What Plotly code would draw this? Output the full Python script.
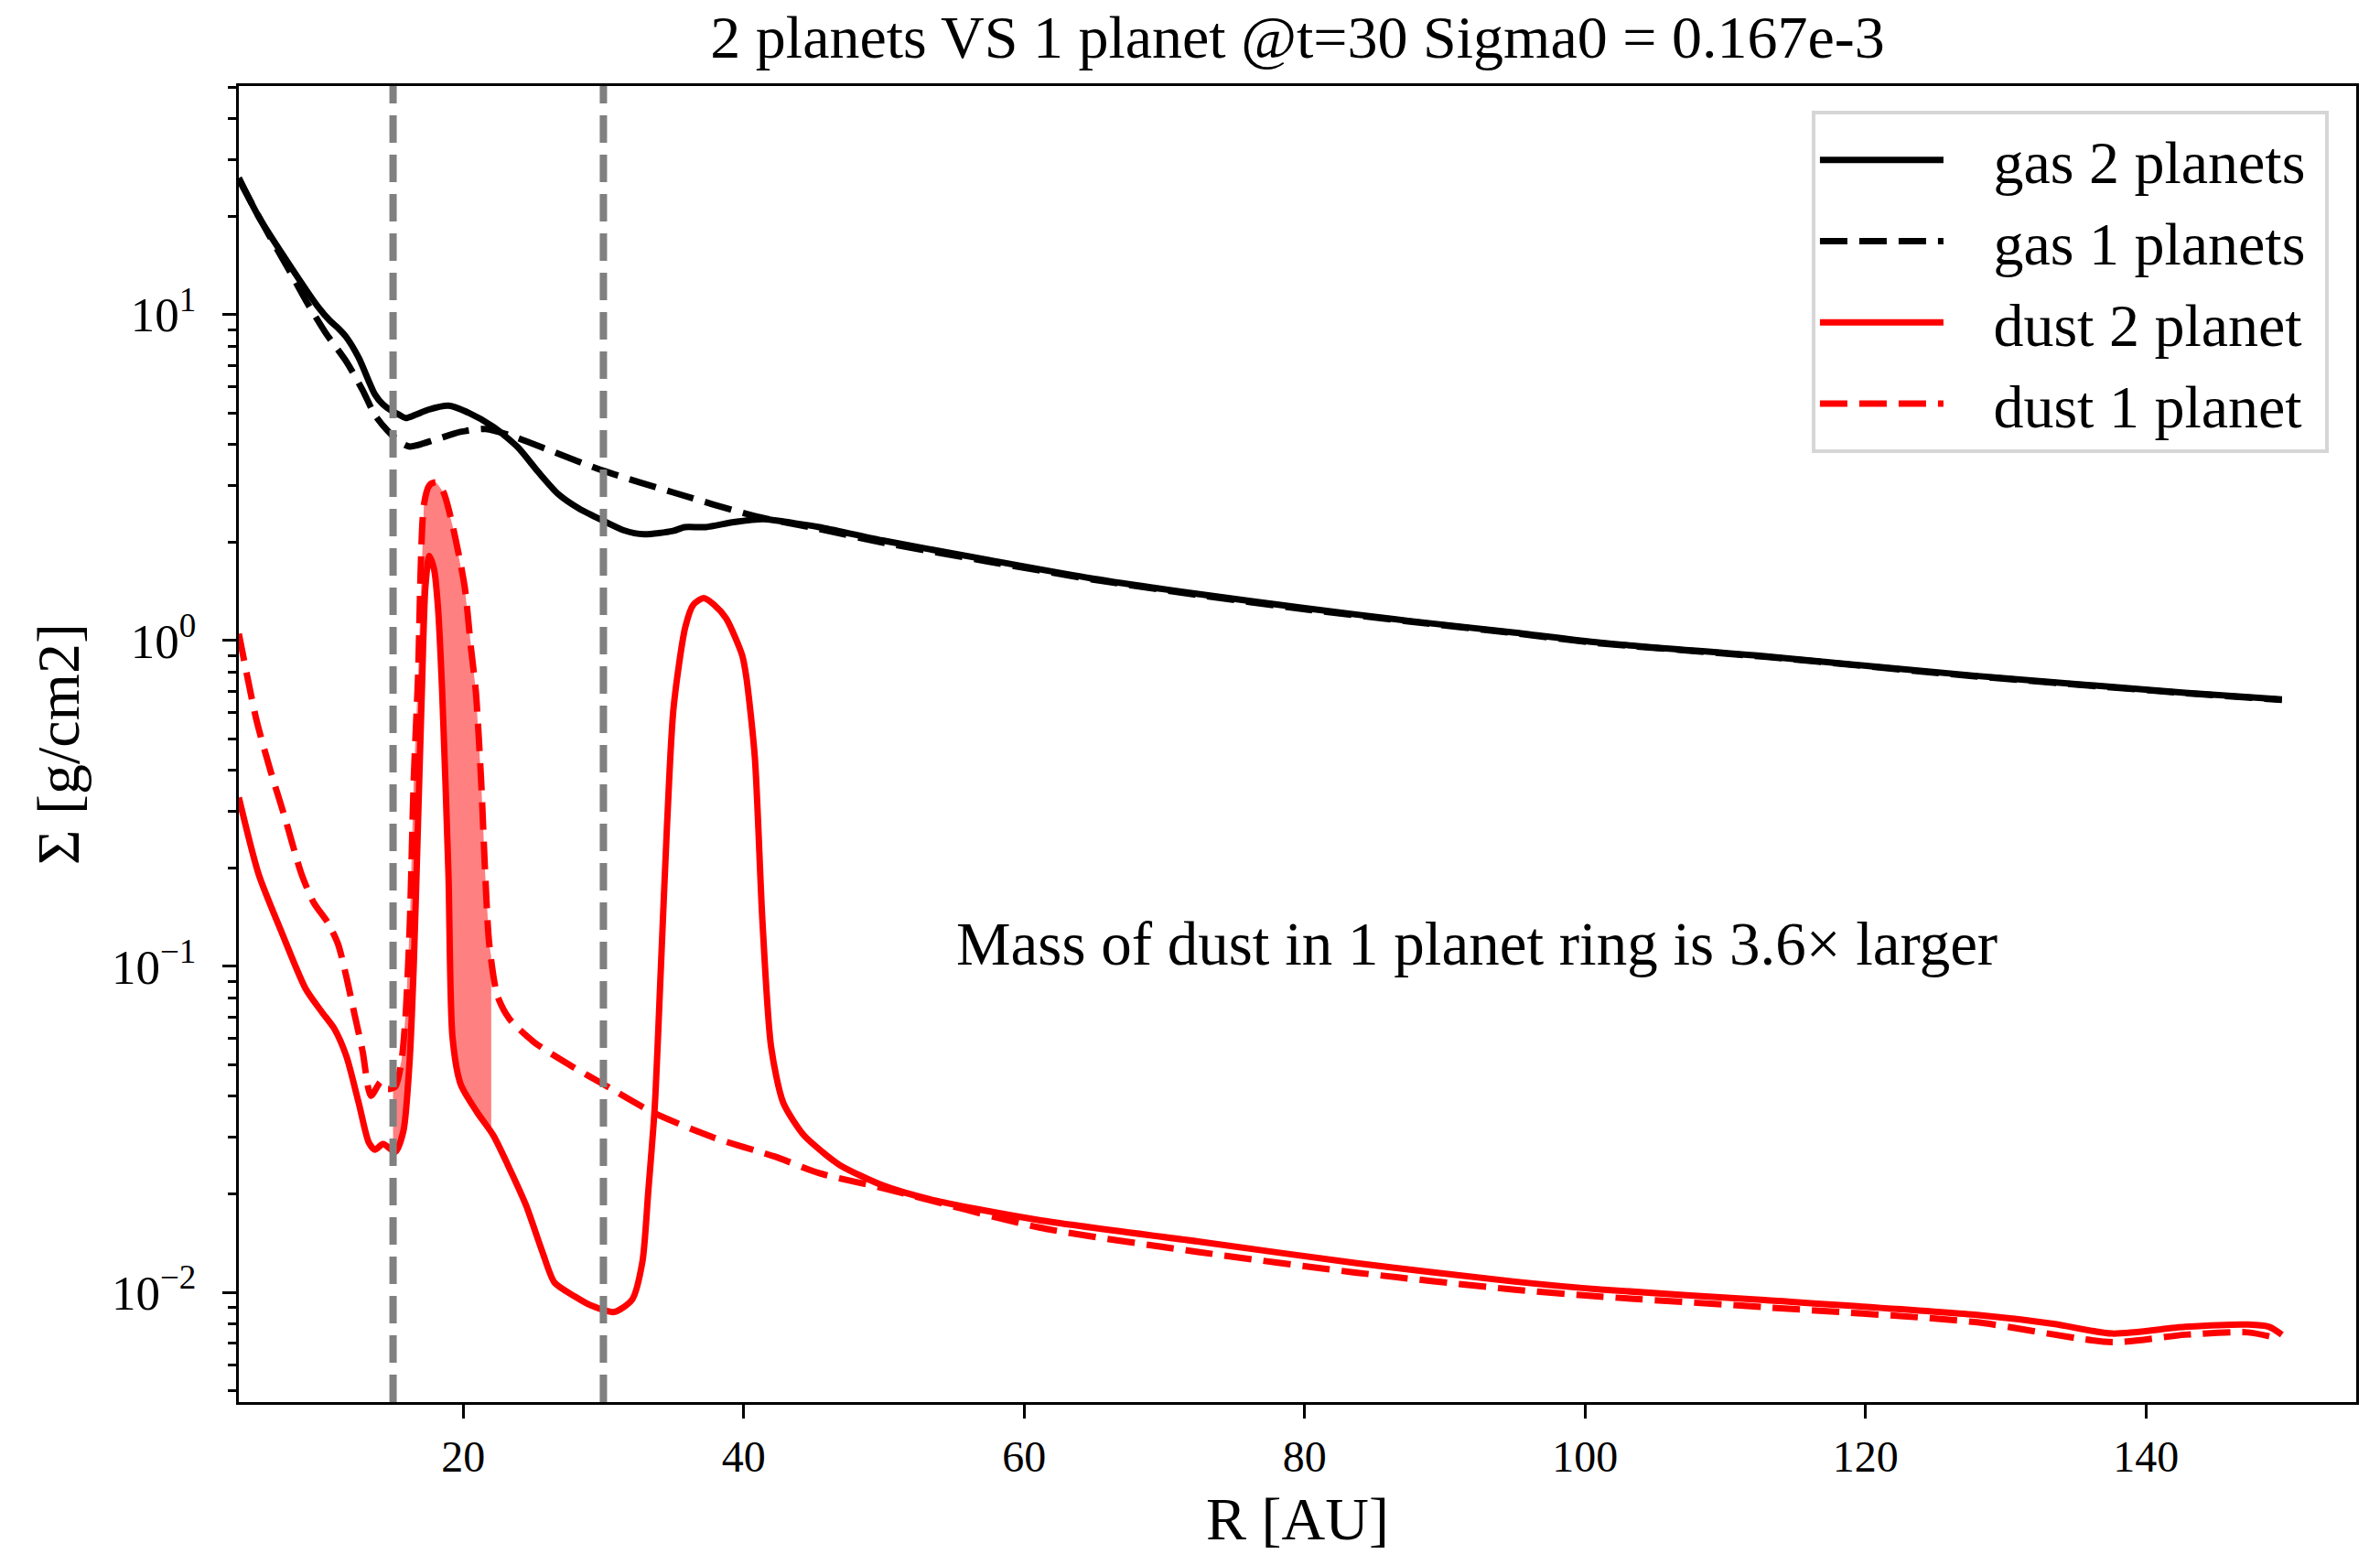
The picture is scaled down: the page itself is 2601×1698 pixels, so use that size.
import numpy as np
import plotly.graph_objects as go

# ---------------- data ----------------
r_gas2 = [4.0, 5.41, 7.0, 9.63, 10.5, 11.08, 11.67, 12.55, 13.7, 14.29, 14.87, 15.45, 15.9,
          16.6, 17.5, 18.95, 20.4, 22.15, 23.9, 25.36, 26.8, 28.27, 30.0, 31.46, 32.9,
          34.96, 35.8, 37.3, 39.3, 41.4, 43.7, 45.4, 49.9, 57.4, 64.9, 72.4, 79.9, 87.4,
          94.85, 101.1, 112.8, 127.8, 142.8, 149.7]
sigma_gas2 = [26.3, 20.0, 15.6, 10.6, 9.58, 9.1, 8.53, 7.38, 5.70, 5.30, 5.08, 4.93, 4.82,
              4.93, 5.11, 5.26, 5.0, 4.53, 3.92, 3.29, 2.81, 2.54, 2.33, 2.18, 2.12,
              2.17, 2.23, 2.23, 2.31, 2.36, 2.29, 2.23, 2.03, 1.77, 1.55, 1.39, 1.26, 1.15,
              1.06, 0.985, 0.895, 0.78, 0.692, 0.66]

r_gas1 = [4.0, 6.14, 7.59, 8.76, 10.2, 11.67, 12.83, 13.7, 14.58, 15.45, 16.2, 18.1, 19.8,
          21.6, 23.3, 26.2, 30.0, 34.96, 40.8, 45.4, 49.9, 57.4, 64.9, 72.4, 79.9, 87.4,
          94.85, 101.1, 112.8, 127.8, 142.8, 149.7]
sigma_gas1 = [26.0, 17.6, 13.7, 11.1, 8.79, 7.18, 5.87, 4.93, 4.42, 4.08, 3.94, 4.15, 4.37,
              4.46, 4.27, 3.83, 3.32, 2.85, 2.41, 2.20, 2.0, 1.75, 1.54, 1.38, 1.25, 1.145,
              1.055, 0.981, 0.892, 0.777, 0.69, 0.658]

r_dust2 = [4.0, 5.41, 7.0, 8.76, 9.92, 10.8, 11.67, 12.55, 13.27, 13.7, 14.29, 15.16, 15.74,
           16.18, 16.47, 16.77, 17.06, 17.3, 17.58, 17.93, 18.2, 18.5, 18.95, 19.24, 19.82,
           20.99, 22.15, 23.3, 24.48, 25.65, 26.52, 27.98, 29.14, 30.75, 32.05, 32.78, 33.2,
           33.66, 34.1, 34.53, 35.0, 35.84, 36.42, 37.15, 37.88, 38.75, 39.9, 40.2, 40.8,
           41.34, 41.96, 42.83, 44.3, 45.6, 46.9, 49.9, 53.7, 61.1, 72.4, 83.6, 94.85,
           101.1, 112.8, 127.8, 133.4, 137.6, 142.8, 147.3, 148.8, 149.7]
sigma_dust2 = [0.33, 0.192, 0.129, 0.0855, 0.0725, 0.0645, 0.053, 0.0381, 0.0288, 0.0274,
               0.0285, 0.027, 0.0313, 0.0513, 0.0993, 0.267, 0.718, 1.45, 1.82, 1.65, 1.27,
               0.70, 0.192, 0.0605, 0.0435, 0.0357, 0.0303, 0.024, 0.0185, 0.0133, 0.0107,
               0.0097, 0.0091, 0.0087, 0.0095, 0.0124, 0.0204, 0.0369, 0.0993, 0.267, 0.62,
               1.10, 1.29, 1.35, 1.29, 1.17, 0.90, 0.768, 0.438, 0.138, 0.0566, 0.0381,
               0.0303, 0.027, 0.0245, 0.0213, 0.0191, 0.01664, 0.01432, 0.0123, 0.0108,
               0.0102, 0.00946, 0.00853, 0.0080, 0.00747, 0.00783, 0.00796, 0.00783, 0.00741]

r_dust1 = [4.0, 5.26, 6.28, 7.3, 8.47, 9.34, 10.36, 11.08, 11.67, 12.25, 12.83, 13.42, 14.14,
           14.58, 15.16, 15.6, 15.9, 16.2, 16.47, 16.77, 17.2, 17.6, 18.08, 18.6, 19.24,
           20.1, 20.55, 20.9, 21.28, 21.57, 21.86, 22.44, 23.3, 25.07, 27.68, 30.0, 33.5,
           37.9, 42.2, 45.4, 49.9, 61.1, 72.4, 83.6, 94.85, 101.1, 112.8, 127.8, 137.6,
           142.8, 147.3, 149.5]
sigma_dust1 = [1.05, 0.57, 0.396, 0.285, 0.192, 0.157, 0.136, 0.117, 0.0929, 0.0713, 0.0548,
               0.0401, 0.0443, 0.0421, 0.0428, 0.0513, 0.0713, 0.138, 0.37, 0.75, 2.61, 3.0,
               3.06, 2.85, 2.26, 1.47, 0.953, 0.70, 0.372, 0.192, 0.117, 0.0813, 0.069,
               0.0585, 0.0496, 0.0435, 0.0357, 0.0298, 0.0261, 0.0232, 0.0209, 0.0158,
               0.0133, 0.0115, 0.0102, 0.0097, 0.009, 0.0081, 0.00703, 0.00741, 0.00753, 0.0072]

planet_radii = [15, 30]
ring_range = [15, 22]

series_names = ["gas 2 planets", "gas 1 planets", "dust 2 planet", "dust 1 planet"]
title_text = "2 planets VS 1 planet @t=30 Sigma0 = 0.167e-3"
note_text = "Mass of dust in 1 planet ring is 3.6\u00d7 larger"
note_pos = [55, 0.1]
x_ticks = [20, 40, 60, 80, 100, 120, 140]
y_ticks = [0.01, 0.1, 1, 10]
y_tick_text = ["10<sup>\u22122</sup>", "10<sup>\u22121</sup>", "10<sup>0</sup>", "10<sup>1</sup>"]
y_minor = [m * 10.0 ** e for e in range(-3, 2) for m in range(2, 10)]

FONT = "Liberation Serif"
W, H = 2601, 1698
DASH = "30px,13px"
NBSP = "\u00a0"


def ring_segment(r, s, lo, hi):
    r = np.asarray(r, float)
    ls = np.log10(np.asarray(s, float))
    inside = (r > lo) & (r < hi)
    rr = np.concatenate([[lo], r[inside], [hi]])
    ll = np.concatenate([[np.interp(lo, r, ls)], ls[inside], [np.interp(hi, r, ls)]])
    return rr, 10 ** ll


fig = go.Figure()

# filled ring region between the two dust curves
r1, s1 = ring_segment(r_dust1, sigma_dust1, *ring_range)
r2, s2 = ring_segment(r_dust2, sigma_dust2, *ring_range)
fig.add_trace(go.Scatter(
    x=list(r1) + list(r2[::-1]), y=list(s1) + list(s2[::-1]),
    mode="lines", fill="toself", fillcolor="#ff8080",
    line=dict(width=0, color="rgba(0,0,0,0)"), showlegend=False, hoverinfo="skip"))

line_specs = [
    (r_gas2, sigma_gas2, "black", "solid"),
    (r_gas1, sigma_gas1, "black", DASH),
    (r_dust2, sigma_dust2, "red", "solid"),
    (r_dust1, sigma_dust1, "red", DASH),
]
for name, (rx, sy, col, dash) in zip(series_names, line_specs):
    fig.add_trace(go.Scatter(
        x=rx, y=sy, name=NBSP * 3 + name + NBSP, mode="lines",
        line=dict(color=col, width=7, dash=dash, shape="spline", smoothing=0.7)))

for rp in planet_radii:
    fig.add_vline(x=rp, line=dict(color="#808080", width=8, dash=DASH), layer="above")

fig.add_annotation(
    x=note_pos[0], y=np.log10(note_pos[1]), xref="x", yref="y",
    text=note_text, showarrow=False, xanchor="left", yanchor="bottom", yshift=-14,
    font=dict(family=FONT, size=67, color="black"))

axis_common = dict(
    showline=True, linecolor="black", linewidth=3, mirror=True,
    ticks="outside", tickcolor="black", tickwidth=3, ticklen=15,
    showgrid=False, zeroline=False,
)

fig.update_layout(
    width=W, height=H,
    margin=dict(l=261, r=26, t=94, b=166, pad=0),
    plot_bgcolor="white", paper_bgcolor="white",
    title=dict(text=title_text, x=0.5, xref="paper", xanchor="center",
               y=1 - 40 / H, yref="container", yanchor="middle",
               font=dict(family=FONT, size=66, color="black")),
    xaxis=dict(range=[4, 155], tickvals=x_ticks,
               tickfont=dict(family=FONT, size=48, color="black"),
               title=dict(text="R [AU]", font=dict(family=FONT, size=66, color="black"), standoff=20),
               **axis_common),
    yaxis=dict(type="log", range=[-2.337, 1.702], tickvals=y_ticks, ticktext=y_tick_text,
               tickfont=dict(family=FONT, size=53, color="black"),
               ticklabelstandoff=18,
               minor=dict(ticks="outside", ticklen=9, tickwidth=2.5, tickcolor="black", tickvals=y_minor),
               title=dict(text="\u03a3 [g/cm2]", font=dict(family=FONT, size=66, color="black"), standoff=14),
               **axis_common),
    legend=dict(x=0.987, y=0.981, xanchor="right", yanchor="top",
                bgcolor="white", bordercolor="#d6d6d6", borderwidth=4,
                font=dict(family=FONT, size=66, color="black"),
                itemwidth=135, tracegroupgap=0),
    showlegend=True,
)

fig.write_html("out.html", config={"displayModeBar": False})
